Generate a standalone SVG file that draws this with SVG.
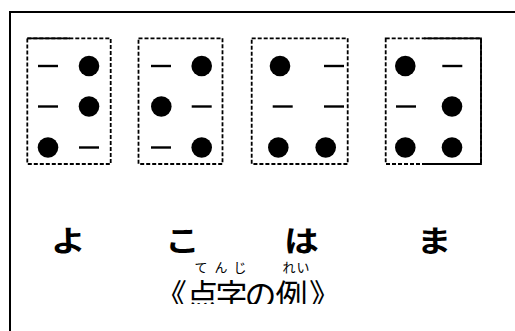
<svg xmlns="http://www.w3.org/2000/svg" width="515" height="331" viewBox="0 0 515 331">
<style>
.frame{fill:none;stroke:#000;stroke-width:2}
.cell{fill:none;stroke:#000;stroke-width:1.8;stroke-dasharray:4 2}
.solid{fill:none;stroke:#000;stroke-width:1.8}
.dot{fill:#000}
.dash{stroke:#000;stroke-width:2.4}
.kana{font-family:"Noto Sans CJK JP",sans-serif;font-weight:bold;font-size:29px;fill:#000;text-anchor:middle}
.title{font-family:"Noto Sans CJK JP",sans-serif;font-size:32px;fill:#000}
.ruby{font-family:"Noto Sans CJK JP",sans-serif;font-size:13px;fill:#000}
</style>
<defs>
<clipPath id="cut"><rect x="0" y="0" width="515" height="304"/></clipPath>
</defs>
<rect x="0" y="0" width="515" height="331" fill="#fff"/>
<path class="frame" d="M10,331 V12 H515"/>
<g id="cell-yo">
<rect class="cell" x="27.3" y="38.3" width="83.4" height="125.7"/>
<path class="solid" d="M27.3,38.3 H70"/>
<line class="dash" x1="38" y1="66" x2="58" y2="66"/>
<circle class="dot" cx="89" cy="66" r="10.3"/>
<line class="dash" x1="38" y1="106.5" x2="58" y2="106.5"/>
<circle class="dot" cx="89" cy="106.5" r="10.3"/>
<circle class="dot" cx="48" cy="147.5" r="10.3"/>
<line class="dash" x1="79" y1="147.5" x2="99" y2="147.5"/>
</g>
<g id="cell-ko">
<rect class="cell" x="138.5" y="38.3" width="84" height="125.7"/>
<line class="dash" x1="151" y1="66" x2="171" y2="66"/>
<circle class="dot" cx="201.7" cy="66" r="10.3"/>
<circle class="dot" cx="161.3" cy="106.5" r="10.3"/>
<line class="dash" x1="191.7" y1="106.5" x2="211.7" y2="106.5"/>
<line class="dash" x1="151" y1="147.5" x2="171" y2="147.5"/>
<circle class="dot" cx="201.7" cy="147.5" r="10.3"/>
</g>
<g id="cell-ha">
<rect class="cell" x="251.7" y="38.3" width="96" height="125.7"/>
<circle class="dot" cx="280" cy="66" r="10.3"/>
<line class="dash" x1="324" y1="66" x2="344" y2="66"/>
<line class="dash" x1="272.7" y1="106.5" x2="292.7" y2="106.5"/>
<line class="dash" x1="324" y1="106.5" x2="344" y2="106.5"/>
<circle class="dot" cx="278.3" cy="147.5" r="10.3"/>
<circle class="dot" cx="325.7" cy="147.5" r="10.3"/>
</g>
<g id="cell-ma">
<rect class="cell" x="385.7" y="38.3" width="95.3" height="125.7"/>
<path class="solid" d="M424,38.3 H481 V164 H424"/>
<circle class="dot" cx="405.3" cy="66" r="10.3"/>
<line class="dash" x1="442.3" y1="66" x2="462.3" y2="66"/>
<line class="dash" x1="396" y1="106.5" x2="416" y2="106.5"/>
<circle class="dot" cx="452" cy="106.5" r="10.3"/>
<circle class="dot" cx="405.3" cy="147.5" r="10.3"/>
<circle class="dot" cx="452" cy="147.5" r="10.3"/>
</g>
<g id="labels">
<text class="kana" transform="translate(68.3,252) scale(1.2,1)">よ</text>
<text class="kana" transform="translate(182.5,252) scale(1.2,1)">こ</text>
<text class="kana" transform="translate(301.5,252) scale(1.2,1)">は</text>
<text class="kana" transform="translate(434.2,252) scale(1.2,1)">ま</text>
</g>
<g id="caption">
<text class="ruby" x="194.5 214.5 233.5" y="272">てんじ</text>
<text class="ruby" x="282.5 296.5" y="272">れい</text>
<text class="title" x="155 186.5 215.5 244.5 275.5 309" y="307" clip-path="url(#cut)">《点字の例》</text>
</g>
</svg>
